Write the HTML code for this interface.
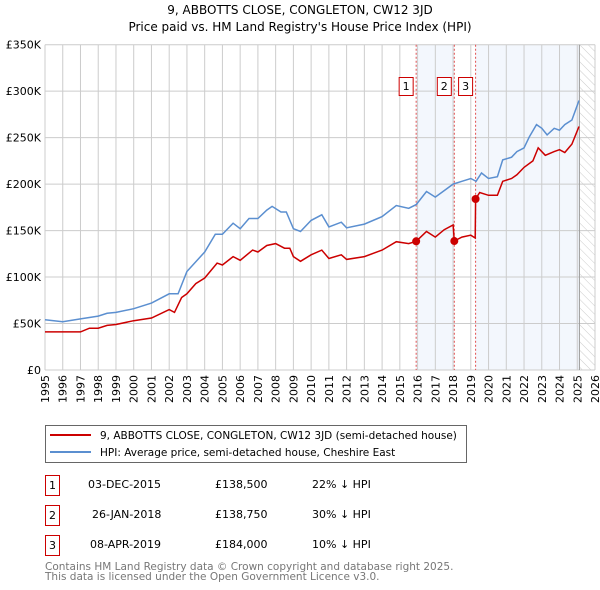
<!DOCTYPE html>
<html><head><meta charset="utf-8"><style>
body{margin:0;background:#fff;}
svg{display:block;font-family:"DejaVu Sans","Liberation Sans",sans-serif;}
</style></head><body>
<svg id="c" width="600" height="590" viewBox="0 0 600 590">
<text x="300" y="14" text-anchor="middle" font-size="12">9, ABBOTTS CLOSE, CONGLETON, CW12 3JD</text>
<text x="300" y="31" text-anchor="middle" font-size="12">Price paid vs. HM Land Registry's House Price Index (HPI)</text>
<defs><pattern id="hatch" width="6" height="6" patternUnits="userSpaceOnUse" patternTransform="rotate(-45)"><line x1="0" y1="0" x2="0" y2="6" stroke="#ccc" stroke-width="1"/></pattern></defs>
<g id="plot"></g>
<g>
<rect x="45.5" y="425.5" width="421" height="37" fill="#fff" stroke="#666"/>
<line x1="50" y1="435" x2="91" y2="435" stroke="#cc0000" stroke-width="2"/>
<text x="100" y="439" font-size="10.5">9, ABBOTTS CLOSE, CONGLETON, CW12 3JD (semi-detached house)</text>
<line x1="50" y1="452" x2="91" y2="452" stroke="#5b8fd0" stroke-width="2"/>
<text x="100" y="456" font-size="10.5">HPI: Average price, semi-detached house, Cheshire East</text>
</g>
<g font-size="11">
<rect x="45.5" y="475.5" width="14" height="20" fill="none" stroke="#cc0000"/><text x="52.5" y="489" text-anchor="middle">1</text>
<text x="88" y="488">03-DEC-2015</text><text x="215" y="488">£138,500</text><text x="312" y="488">22% ↓ HPI</text>
<rect x="45.5" y="505.5" width="14" height="20" fill="none" stroke="#cc0000"/><text x="52.5" y="519" text-anchor="middle">2</text>
<text x="92" y="518">26-JAN-2018</text><text x="215" y="518">£138,750</text><text x="312" y="518">30% ↓ HPI</text>
<rect x="45.5" y="535.5" width="14" height="20" fill="none" stroke="#cc0000"/><text x="52.5" y="549" text-anchor="middle">3</text>
<text x="90" y="548">08-APR-2019</text><text x="215" y="548">£184,000</text><text x="312" y="548">10% ↓ HPI</text>
</g>
<text x="45" y="570" font-size="10.5" fill="#777">Contains HM Land Registry data © Crown copyright and database right 2025.</text>
<text x="45" y="580" font-size="10.5" fill="#777">This data is licensed under the Open Government Licence v3.0.</text>
</svg>
<script>
const yTicks=[0,50,100,150,200,250,300,350];
const yLabels=["£0","£50K","£100K","£150K","£200K","£250K","£300K","£350K"];
const xYears=[1995,1996,1997,1998,1999,2000,2001,2002,2003,2004,2005,2006,2007,2008,2009,2010,2011,2012,2013,2014,2015,2016,2017,2018,2019,2020,2021,2022,2023,2024,2025,2026];
const hpiT=[1995,1996,1997,1998,1998.5,1999,2000,2001,2002,2002.5,2003,2004,2004.6,2005,2005.6,2006,2006.5,2007,2007.5,2007.8,2008.3,2008.6,2009,2009.4,2010,2010.6,2011,2011.7,2012,2013,2014,2014.8,2015.5,2015.92,2016.5,2017,2017.5,2018,2018.5,2019,2019.3,2019.6,2020,2020.5,2020.8,2021.3,2021.6,2022,2022.3,2022.7,2023,2023.3,2023.7,2024,2024.3,2024.7,2025.1];
const hpiV=[54,52,55,58,61,62,66,72,82,82,106,127,146,146,158,152,163,163,172,176,170,170,152,149,161,167,154,159,153,157,165,177,174,178,192,186,193,200,203,206,203,212,206,208,226,229,235,239,251,264,260,253,260,258,264,269,290];
const priceT=[1995,1996,1997,1997.5,1998,1998.5,1999,2000,2001,2002,2002.3,2002.7,2003,2003.5,2004,2004.7,2005,2005.6,2006,2006.7,2007,2007.5,2008,2008.5,2008.8,2009,2009.4,2010,2010.6,2011,2011.7,2012,2013,2014,2014.8,2015.5,2015.92,2016.5,2017,2017.5,2018.0,2018.07,2018.5,2019,2019.25,2019.27,2019.5,2020,2020.5,2020.8,2021.3,2021.6,2022,2022.5,2022.8,2023.2,2023.7,2024,2024.3,2024.7,2025.1];
const priceV=[41,41,41,45,45,48,49,53,56,65,62,78,82,93,99,115,113,122,118,129,127,134,136,131,131,122,117,124,129,120,124,119,122,129,138,136,138.5,149,143,151,156,138.75,143,145,142,184,191,188,188,203,206,210,218,225,239,231,235,237,234,243,262];
const saleT=[2015.92,2018.07,2019.27];
const saleV=[138.5,138.75,184];
const saleLabels=["1","2","3"];
const X0=45,X1=595,Y0=370,Y1=44.7;
const xs=t=>X0+(t-1995)*(X1-X0)/31;
const ys=v=>Y0-v*(Y0-Y1)/350;
const NS="http://www.w3.org/2000/svg";
const g=document.getElementById('plot');
function mk(tag,attrs,name){const e=document.createElementNS(NS,tag);for(const k in attrs)e.setAttribute(k,attrs[k]);


g.appendChild(e);return e;}
mk('rect',{x:xs(saleT[0]),y:Y1,width:xs(saleT[1])-xs(saleT[0]),height:Y0-Y1,fill:'#eef3fc',opacity:0.7},'shade-sale1-2');
mk('rect',{x:xs(saleT[2]),y:Y1,width:xs(2025.12)-xs(saleT[2]),height:Y0-Y1,fill:'#eef3fc',opacity:0.7},'shade-sale3-end');
mk('rect',{x:xs(2025.12),y:Y1,width:X1-xs(2025.12),height:Y0-Y1,fill:'url(#hatch)'},'future-hatch');
xYears.forEach(yr=>{mk('line',{x1:xs(yr),x2:xs(yr),y1:Y1,y2:Y0,stroke:'#ccc'},'x-grid-line');
const t=mk('text',{x:0,y:0,'font-size':11,'text-anchor':'end',transform:`translate(${xs(yr)+4},${Y0+5}) rotate(-90)`},'x-tick-label');t.textContent=yr;});
yTicks.forEach((v,i)=>{mk('line',{x1:X0,x2:X1,y1:ys(v),y2:ys(v),stroke:'#ccc'},'y-grid-line');
const t=mk('text',{x:X0-4,y:ys(v)+4,'font-size':11,'text-anchor':'end'},'y-tick-label');t.textContent=yLabels[i];});
mk('line',{x1:xs(2025.12),x2:xs(2025.12),y1:Y1,y2:Y0,stroke:'#999'},'data-end-line');
saleT.forEach((t,i)=>{mk('line',{x1:xs(t),x2:xs(t),y1:Y1,y2:Y0,stroke:'#e05050','stroke-dasharray':'2,2'},'sale-marker-line');});
const path=(T,V)=>T.map((t,i)=>(i?'L':'M')+xs(t).toFixed(1)+','+ys(V[i]).toFixed(1)).join('');
mk('path',{d:path(hpiT,hpiV),fill:'none',stroke:'#5b8fd0','stroke-width':1.5},'hpi-line');
mk('path',{d:path(priceT,priceV),fill:'none',stroke:'#cc0000','stroke-width':1.5},'price-line');
saleT.forEach((t,i)=>{mk('circle',{cx:xs(t),cy:ys(saleV[i]),r:4,fill:'#cc0000'},'sale-point');
const cx=xs(t)-10;
mk('rect',{x:cx-7,y:77.5,width:14,height:18,fill:'#fff',stroke:'#cc0000'},'sale-label-box');
const tx=mk('text',{x:cx,y:90,'font-size':11,'text-anchor':'middle'},'sale-label');tx.textContent=saleLabels[i];});
</script>
</body></html>
